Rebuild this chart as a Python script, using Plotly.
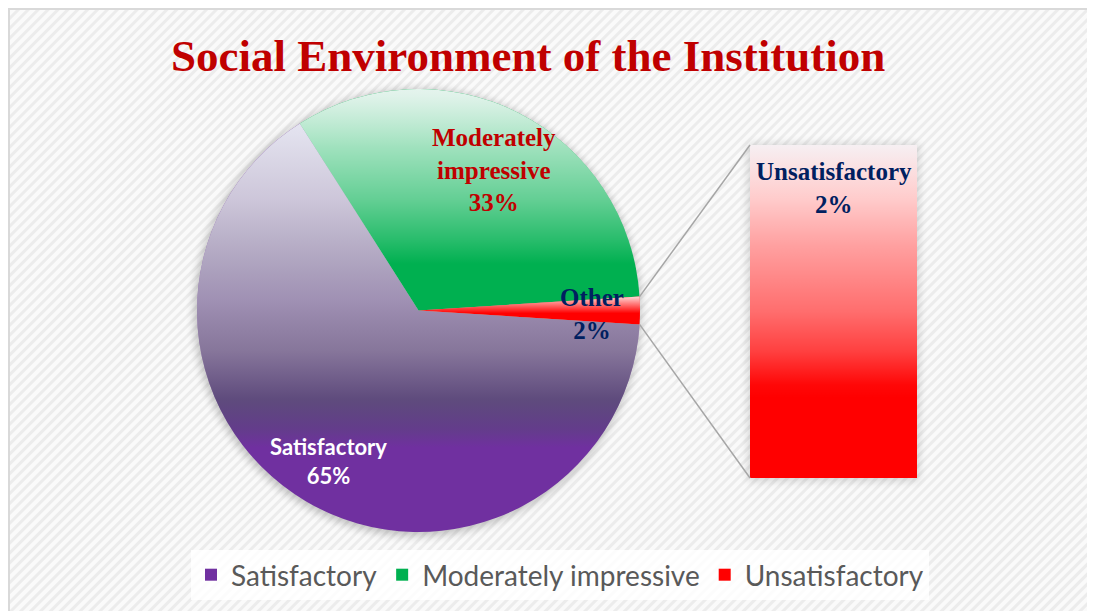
import base64
import math
import plotly.graph_objects as go

W, H = 1095, 611
OFF = 8                     # the page body margin
FW, FH = W - OFF, H - OFF   # figure size that fits the window

# data
labels = ["Satisfactory", "Moderately impressive", "Unsatisfactory"]
values = [65, 33, 2]
colors = ["#7030A0", "#00B050", "#FF0000"]
pie_text_names = ["Satisfactory", "Moderately<br>impressive", "Other"]
bar_name = "Unsatisfactory"
title_text = "Social Environment of the Institution"

# layout geometry (page pixels)
PIE_CX, PIE_CY, PIE_R = 418.5, 310.5, 221.5
BAR_L, BAR_R, BAR_T, BAR_B = 750, 917, 145, 478
SERIF = "Liberation Serif"
SANS = "Lato"


def px_x(x):
    return (x - OFF) / FW


def px_y(y):
    return 1 - (y - OFF) / FH


def svg_uri(svg):
    return "data:image/svg+xml;base64," + base64.b64encode(svg.encode()).decode()


def grad(gid, y1, y2, stops, units="userSpaceOnUse"):
    s = "".join(f'<stop offset="{o}" stop-color="{c}" stop-opacity="{a}"/>' for o, c, a in stops)
    return (f'<linearGradient id="{gid}" gradientUnits="{units}" x1="0" y1="{y1}" '
            f'x2="0" y2="{y2}">{s}</linearGradient>')


def wedge(a0, a1, r):
    # angles clockwise from 12 o'clock, like plotly's pie
    c = r
    x0 = c + r * math.sin(math.radians(a0))
    y0 = c - r * math.cos(math.radians(a0))
    x1 = c + r * math.sin(math.radians(a1))
    y1 = c - r * math.cos(math.radians(a1))
    large = 1 if a1 - a0 > 180 else 0
    return f"M{c},{c} L{x0:.2f},{y0:.2f} A{r},{r} 0 {large} 1 {x1:.2f},{y1:.2f} Z"


total = sum(values)
# red slice centred on 3 o'clock
rotation = 90 + 180 * values[-1] / total
angles = []
a = rotation
for v in values:
    span = 360 * v / total
    angles.append((a, a + span))
    a += span

# gradient overlays for each slice (Excel-style shading)
R = PIE_R
d = 2 * R
purple_stops = [(0.0, "rgb(240,244,250)", 0.95), (0.045, "rgb(240,244,250)", 0.95),
                (0.25, "rgb(236,248,237)", 0.75), (0.475, "rgb(208,242,200)", 0.5),
                (0.59, "rgb(163,204,149)", 0.45), (0.70, "rgb(74,108,82)", 0.45),
                (0.77, "rgb(52,108,60)", 0.2), (0.81, "rgb(52,108,60)", 0.0), (1.0, "white", 0.0)]
green_stops = [(0.0, "rgb(236,246,242)", 0.97), (0.03, "rgb(236,246,242)", 0.95),
               (0.26, "white", 0.63), (0.50, "white", 0.39), (0.68, "white", 0.16),
               (0.79, "white", 0.0), (1.0, "white", 0.0)]
red_stops = [(0.0, "white", 0.85), (0.6, "white", 0.0), (1.0, "white", 0.0)]
pie_svg = (
    f'<svg xmlns="http://www.w3.org/2000/svg" width="{d}" height="{d}" viewBox="0 0 {d} {d}" '
    f'preserveAspectRatio="none"><defs>'
    + grad("gp", 0, d, purple_stops)
    + grad("gg", 0, R, green_stops)
    + grad("gr", R - 14, R + 14, red_stops)
    + "</defs>"
    + f'<path d="{wedge(*angles[0], R)}" fill="url(#gp)"/>'
    + f'<path d="{wedge(*angles[1], R)}" fill="url(#gg)"/>'
    + f'<path d="{wedge(*angles[2], R)}" fill="url(#gr)"/>'
    + "</svg>"
)

bar_stops = [(0.0, "rgb(246,247,250)", 0.97), (0.16, "white", 0.8), (0.3, "white", 0.63),
             (0.5, "white", 0.43), (0.62, "white", 0.25), (0.72, "white", 0.03),
             (0.76, "white", 0.0), (1.0, "white", 0.0)]
bar_svg = (
    '<svg xmlns="http://www.w3.org/2000/svg" width="100" height="100" viewBox="0 0 100 100" '
    'preserveAspectRatio="none"><defs>'
    + grad("gb", 0, 1, bar_stops, units="objectBoundingBox")
    + '</defs><rect x="0" y="0" width="100" height="100" fill="url(#gb)"/></svg>'
)

# background: striped panel, frame, soft shadows (figure pixel coords)
bg_svg = (
    f'<svg xmlns="http://www.w3.org/2000/svg" width="{FW}" height="{FH}" viewBox="0 0 {FW} {FH}" '
    'preserveAspectRatio="none"><defs>'
    '<pattern id="st" width="7" height="7" patternUnits="userSpaceOnUse" patternTransform="rotate(45)">'
    '<rect width="7" height="7" fill="#fafafa"/><rect width="3" height="7" fill="#ececec"/></pattern>'
    '<filter id="bl" x="-20%" y="-20%" width="140%" height="140%"><feGaussianBlur stdDeviation="4"/></filter>'
    '</defs>'
    f'<rect x="0" y="0" width="{FW}" height="{FH}" fill="white"/>'
    f'<rect x="1" y="1" width="{1090 - OFF}" height="{FH + 5}" fill="url(#st)" stroke="#d9d9d9" stroke-width="2"/>'
    f'<circle cx="{PIE_CX - 1 - OFF}" cy="{PIE_CY + 2 - OFF}" r="{PIE_R + 2}" fill="black" opacity="0.22" filter="url(#bl)"/>'
    f'<rect x="{BAR_L - 2 - OFF}" y="{BAR_T - 1 - OFF}" width="{BAR_R - BAR_L + 4}" height="{BAR_B - BAR_T + 4}" '
    'fill="black" opacity="0.15" filter="url(#bl)"/>'
    '</svg>'
)

fig = go.Figure()

fig.add_trace(go.Pie(
    labels=labels, values=values, sort=False, direction="clockwise",
    rotation=rotation, marker=dict(colors=colors, line=dict(width=0)),
    textinfo="none", hoverinfo="label+percent",
    domain=dict(x=[px_x(PIE_CX - PIE_R), px_x(PIE_CX + PIE_R)],
                y=[px_y(PIE_CY + PIE_R), px_y(PIE_CY - PIE_R)]),
))

fig.add_trace(go.Bar(
    x=[bar_name], y=[values[-1]], width=1, marker=dict(color=colors[-1], line=dict(width=0)),
    showlegend=False, hoverinfo="skip",
))

# connector lines from the red slice to the bar
a_top, a_bot = angles[2][0], angles[2][1]
shapes = []
for ang, by in [(a_top, BAR_T), (a_bot, BAR_B)]:
    sx = PIE_CX + PIE_R * math.sin(math.radians(ang))
    sy = PIE_CY - PIE_R * math.cos(math.radians(ang))
    shapes.append(dict(type="line", xref="paper", yref="paper",
                       x0=px_x(sx), y0=px_y(sy), x1=px_x(BAR_L), y1=px_y(by),
                       line=dict(color="#a6a6a6", width=1.5)))

images = [
    dict(source=svg_uri(bg_svg), xref="paper", yref="paper", x=0, y=1, sizex=1, sizey=1,
         xanchor="left", yanchor="top", sizing="stretch", layer="below"),
    dict(source=svg_uri(pie_svg), xref="paper", yref="paper",
         x=px_x(PIE_CX - PIE_R), y=px_y(PIE_CY - PIE_R), sizex=2 * PIE_R / FW, sizey=2 * PIE_R / FH,
         xanchor="left", yanchor="top", sizing="stretch", layer="above"),
    dict(source=svg_uri(bar_svg), xref="x", yref="y", x=-0.5, y=values[-1], sizex=1, sizey=values[-1],
         xanchor="left", yanchor="top", sizing="stretch", layer="above"),
]


def ann(text, x, y, size, color, family=SERIF):
    return dict(text=f"<b>{text}</b>", xref="paper", yref="paper", x=px_x(x), y=px_y(y),
                xanchor="center", yanchor="middle", showarrow=False,
                font=dict(family=family, size=size, color=color))


annotations = [
    ann(title_text, 528, 56, 45, "#C00000"),
    ann(f"{pie_text_names[0]}<br>{values[0]}%", 328, 461, 22, "white", SANS),
    ann(f"{pie_text_names[1]}<br>{values[1]}%", 494, 170, 25, "#C00000"),
    ann(f"{pie_text_names[2]}<br>{values[2]}%", 592, 314, 25, "#002060"),
    ann(f"{bar_name}<br>{values[-1]}%", 834, 188, 25, "#002060"),
]

fig.update_layout(
    width=FW, height=FH,
    margin=dict(l=0, r=0, t=0, b=0),
    paper_bgcolor="white", plot_bgcolor="rgba(0,0,0,0)",
    xaxis=dict(domain=[px_x(BAR_L), px_x(BAR_R)], range=[-0.5, 0.5], visible=False, fixedrange=True),
    yaxis=dict(domain=[px_y(BAR_B), px_y(BAR_T)], range=[0, values[-1]], visible=False, fixedrange=True),
    showlegend=True,
    legend=dict(orientation="h", x=px_x(560), xanchor="center", y=px_y(575), yanchor="middle",
                bgcolor="rgba(255,255,255,0.85)", font=dict(family=SANS, size=28, color="#595959"),
                traceorder="normal"),
    shapes=shapes, images=images, annotations=annotations,
)

fig.write_html("out.html")
